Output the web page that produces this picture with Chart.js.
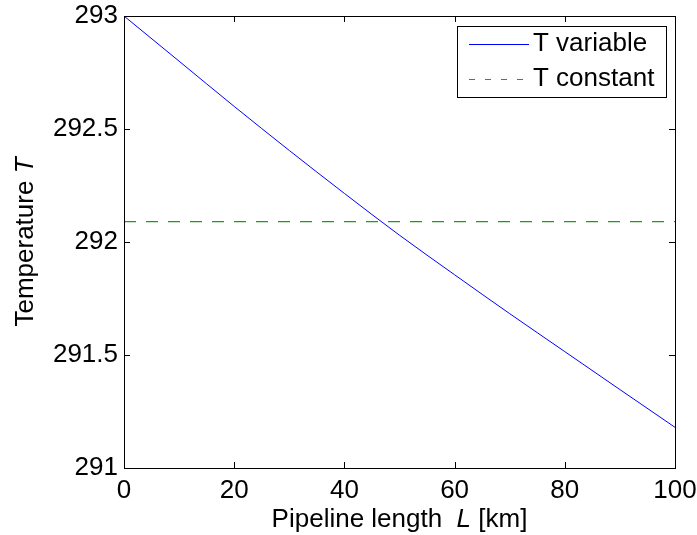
<!DOCTYPE html>
<html>
<head>
<meta charset="utf-8">
<script src="https://cdn.jsdelivr.net/npm/chart.js@4.4.1/dist/chart.umd.min.js"></script>
<style>
  html, body { margin: 0; padding: 0; background: #fff; }
  #wrap { width: 697px; height: 535px; }
</style>
</head>
<body>
<div id="wrap"><canvas id="c" width="697" height="535"></canvas></div>
<script>
// pipeline length [km] and temperature along it
const lengths = [0, 10, 20, 30, 40, 50, 60, 70, 80, 90, 100];
const tempVariable = [293.0, 292.80, 292.60, 292.405, 292.215, 292.03, 291.855, 291.683, 291.515, 291.347, 291.18];
const tempConstant = [292.09, 292.09, 292.09, 292.09, 292.09, 292.09, 292.09, 292.09, 292.09, 292.09, 292.09];
const xTicks = [0, 20, 40, 60, 80, 100];
const yTicks = [291, 291.5, 292, 292.5, 293];
const seriesNames = ['T variable', 'T constant'];

const FONT = '"Liberation Sans", Arial, Helvetica, sans-serif';
const FS = 26;

// caja estilo matlab: marco + ticks hacia dentro
const boxPlugin = {
  id: 'box',
  afterDatasetsDraw(chart) {
    const { ctx, chartArea: a, scales } = chart;
    ctx.save();
    ctx.strokeStyle = '#000';
    ctx.lineWidth = 1;
    ctx.strokeRect(a.left + 0.5, a.top + 0.5, a.right - a.left, a.bottom - a.top);
    const tl = 6;
    ctx.beginPath();
    xTicks.forEach(v => {
      const x = Math.round(scales.x.getPixelForValue(v)) + 0.5;
      ctx.moveTo(x, a.bottom); ctx.lineTo(x, a.bottom - tl);
      ctx.moveTo(x, a.top); ctx.lineTo(x, a.top + tl);
    });
    yTicks.forEach(v => {
      const y = Math.round(scales.y.getPixelForValue(v)) + 0.5;
      ctx.moveTo(a.left, y); ctx.lineTo(a.left + tl, y);
      ctx.moveTo(a.right, y); ctx.lineTo(a.right - tl, y);
    });
    ctx.stroke();

    // titulos de ejes con la variable en cursiva
    ctx.fillStyle = '#000';
    ctx.textBaseline = 'middle';
    const cx = (a.left + a.right) / 2;
    const part1 = 'Pipeline length  ', part2 = 'L', part3 = ' [km]';
    ctx.font = FS + 'px ' + FONT;
    const w1 = ctx.measureText(part1).width, w3 = ctx.measureText(part3).width;
    ctx.font = 'italic ' + FS + 'px ' + FONT;
    const w2 = ctx.measureText(part2).width;
    let x0 = cx - (w1 + w2 + w3) / 2;
    const ty = 520;
    ctx.textAlign = 'left';
    ctx.font = FS + 'px ' + FONT;
    ctx.fillText(part1, x0, ty);
    ctx.font = 'italic ' + FS + 'px ' + FONT;
    ctx.fillText(part2, x0 + w1, ty);
    ctx.font = FS + 'px ' + FONT;
    ctx.fillText(part3, x0 + w1 + w2, ty);

    ctx.save();
    ctx.translate(26, (a.top + a.bottom) / 2);
    ctx.rotate(-Math.PI / 2);
    const y1 = 'Temperature ', y2 = 'T';
    ctx.font = FS + 'px ' + FONT;
    const wy1 = ctx.measureText(y1).width;
    ctx.font = 'italic ' + FS + 'px ' + FONT;
    const wy2 = ctx.measureText(y2).width;
    const sx = -(wy1 + wy2) / 2;
    ctx.font = FS + 'px ' + FONT;
    ctx.fillText(y1, sx, 0);
    ctx.font = 'italic ' + FS + 'px ' + FONT;
    ctx.fillText(y2, sx + wy1, 0);
    ctx.restore();

    // leyenda
    const lw = 209, lh = 71;
    const lx = a.right - 9 - lw, ly = a.top + 10;
    ctx.fillStyle = '#fff';
    ctx.fillRect(lx, ly, lw, lh);
    ctx.strokeStyle = '#000';
    ctx.strokeRect(lx + 0.5, ly + 0.5, lw, lh);
    chart.data.datasets.forEach((ds, i) => {
      const yy = ly + 18 + i * 35;
      ctx.strokeStyle = ds.borderColor;
      ctx.lineWidth = ds.borderWidth;
      ctx.setLineDash(ds.borderDash ? [6, 10] : []);
      ctx.beginPath();
      ctx.moveTo(lx + 12, yy + 0.5);
      ctx.lineTo(lx + 72, yy + 0.5);
      ctx.stroke();
      ctx.setLineDash([]);
      ctx.fillStyle = '#000';
      ctx.font = FS + 'px ' + FONT;
      ctx.textAlign = 'left';
      ctx.fillText(ds.label, lx + 76, yy);
    });
    ctx.restore();
  }
};

new Chart(document.getElementById('c'), {
  type: 'line',
  data: {
    datasets: [
      {
        label: seriesNames[0],
        data: lengths.map((l, i) => ({ x: l, y: tempVariable[i] })),
        borderColor: '#0000ff',
        borderWidth: 1,
        pointRadius: 0,
        cubicInterpolationMode: 'monotone'
      },
      {
        label: seriesNames[1],
        data: lengths.map((l, i) => ({ x: l, y: tempConstant[i] })),
        borderColor: '#1a9f1a',
        borderWidth: 1.2,
        borderDash: [12, 10],
        pointRadius: 0
      }
    ]
  },
  options: {
    responsive: false,
    animation: false,
    layout: { padding: { left: 0, top: 16, right: 22, bottom: 0 } },
    plugins: {
      legend: { display: false },
      tooltip: { enabled: false }
    },
    scales: {
      x: {
        type: 'linear',
        min: 0,
        max: 100,
        afterBuildTicks: s => { s.ticks = xTicks.map(v => ({ value: v })); },
        afterFit: s => { s.height = 67; s.paddingLeft = 0; s.paddingRight = 0; },
        grid: { display: false, drawTicks: false },
        border: { display: false },
        ticks: { color: '#000', font: { family: FONT, size: FS }, padding: 7, maxRotation: 0 }
      },
      y: {
        type: 'linear',
        min: 291,
        max: 293,
        afterBuildTicks: s => { s.ticks = yTicks.map(v => ({ value: v })); },
        afterFit: s => { s.width = 124; s.paddingTop = 0; s.paddingBottom = 0; },
        grid: { display: false, drawTicks: false },
        border: { display: false },
        ticks: { color: '#000', font: { family: FONT, size: FS }, padding: 6, callback: v => String(v) }
      }
    }
  },
  plugins: [boxPlugin]
});
</script>
</body>
</html>
